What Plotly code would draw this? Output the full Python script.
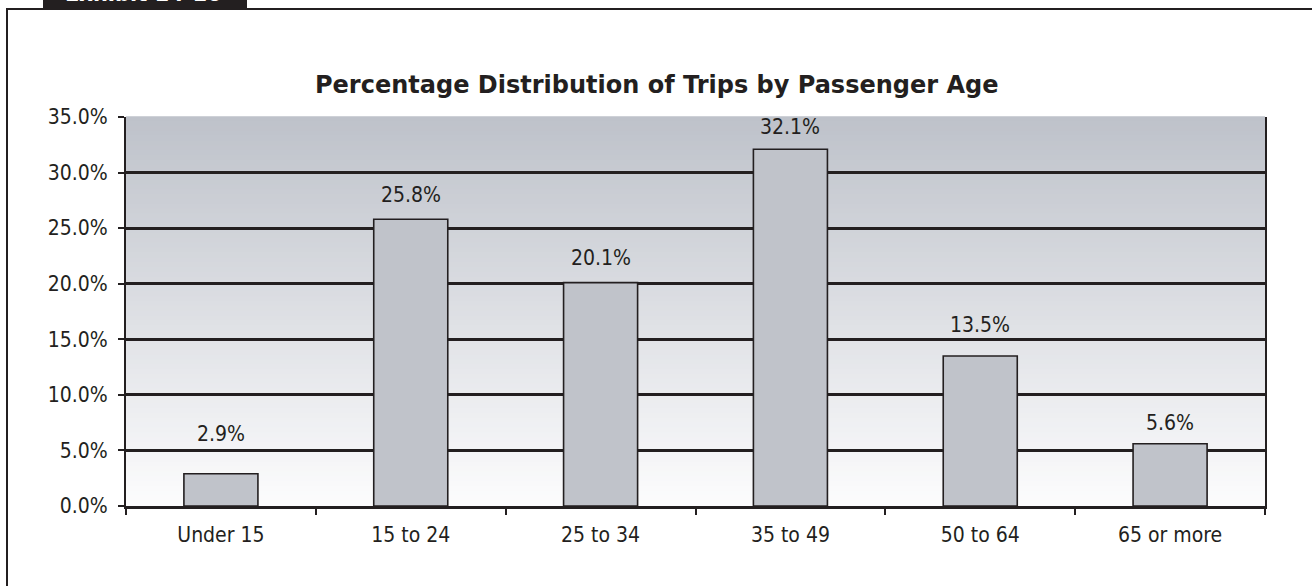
import plotly.graph_objects as go

# Trip shares by passenger age group (percent)
age_groups = ["Under 15", "15 to 24", "25 to 34", "35 to 49", "50 to 64", "65 or more"]
trip_share = [2.9, 25.8, 20.1, 32.1, 13.5, 5.6]
y_ticks = [0, 5, 10, 15, 20, 25, 30, 35]

W, H = 1312, 586
M_L, M_R, M_T, M_B = 126, 47, 117, 80
PW, PH = W - M_L - M_R, H - M_T - M_B

INK = "#231f20"
BAR = "#c0c3ca"
FONT = "DejaVu Sans Condensed, DejaVu Sans, Verdana, sans-serif"
TITLE_FONT = "DejaVu Sans, Verdana, sans-serif"


def px_x(px):
    return (px - M_L) / PW


def px_y(py):
    return (H - M_B - py) / PH


fig = go.Figure()
fig.add_trace(go.Bar(
    x=age_groups,
    y=trip_share,
    marker=dict(color=BAR, line=dict(color=INK, width=1.6)),
    hoverinfo="skip",
))

shapes = []
# vertical gradient behind the plot area (dark at top, near white at bottom)
n_strips = 80
top_rgb = (190, 194, 202)
bot_rgb = (252, 252, 253)
for i in range(n_strips):
    t = i / (n_strips - 1)
    c = tuple(round(top_rgb[k] + (bot_rgb[k] - top_rgb[k]) * t) for k in range(3))
    y1 = 1 - i / n_strips
    y0 = 1 - (i + 1) / n_strips
    shapes.append(dict(type="rect", xref="paper", yref="paper", x0=0, x1=1,
                       y0=y0, y1=y1 + 0.002, fillcolor=f"rgb{c}",
                       line=dict(width=0), layer="below"))

# outer frame of the exhibit
shapes.append(dict(type="rect", xref="paper", yref="paper",
                   x0=px_x(7), x1=px_x(1330), y0=px_y(610), y1=px_y(9),
                   line=dict(color=INK, width=2), fillcolor="rgba(0,0,0,0)",
                   layer="below"))
# exhibit tab
shapes.append(dict(type="rect", xref="paper", yref="paper",
                   x0=px_x(43), x1=px_x(247), y0=px_y(8), y1=px_y(-20),
                   line=dict(width=0), fillcolor=INK, layer="above"))

annotations = []
# value labels above each bar
label_lift = [40, 24, 25, 22, 31, 21]
for cat, val, lift in zip(age_groups, trip_share, label_lift):
    annotations.append(dict(x=cat, y=val, xref="x", yref="y",
                            text=f"{val:.1f}%", showarrow=False,
                            yanchor="middle", yshift=lift,
                            font=dict(family=FONT, size=21, color=INK)))

annotations.append(dict(x=px_x(656), y=px_y(85), xref="paper", yref="paper",
                        text="<b>Percentage Distribution of Trips by Passenger Age</b>",
                        showarrow=False, yanchor="middle",
                        font=dict(family=TITLE_FONT, size=24, color=INK)))

annotations.append(dict(x=px_x(143), y=px_y(8), xref="paper", yref="paper",
                        text="<b>Exhibit 14-10</b>", showarrow=False,
                        yanchor="bottom", xanchor="center",
                        font=dict(family=TITLE_FONT, size=21, color="white")))

fig.update_layout(
    width=W, height=H,
    margin=dict(l=M_L, r=M_R, t=M_T, b=M_B, pad=0),
    paper_bgcolor="white",
    plot_bgcolor="rgba(0,0,0,0)",
    bargap=0.61,
    showlegend=False,
    shapes=shapes,
    annotations=annotations,
    font=dict(family=FONT, size=21, color=INK),
)

fig.update_xaxes(
    type="category",
    tickson="boundaries",
    ticks="outside", ticklen=6, tickwidth=2, tickcolor=INK,
    ticklabelstandoff=8,
    showline=True, linecolor=INK, linewidth=3, mirror=False,
    showgrid=False, zeroline=False,
    tickfont=dict(family=FONT, size=21, color=INK),
)
fig.update_yaxes(
    range=[0, 35],
    tickmode="array", tickvals=y_ticks,
    ticktext=[f"{v:.1f}%" for v in y_ticks],
    ticks="outside", ticklen=6, tickwidth=2, tickcolor=INK,
    ticklabelstandoff=6,
    showline=True, linecolor=INK, linewidth=2, mirror=True,
    showgrid=True, gridcolor=INK, gridwidth=3,
    zeroline=False,
    tickfont=dict(family=FONT, size=21, color=INK),
)

fig.write_html("out.html")
